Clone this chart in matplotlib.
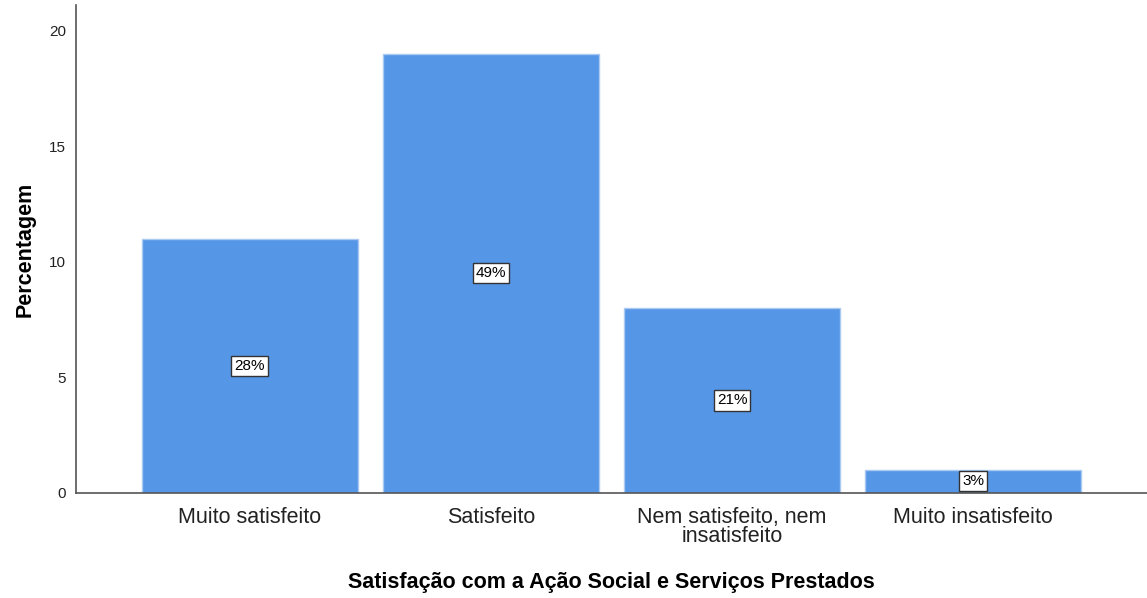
import matplotlib
matplotlib.use("Agg")
import matplotlib.pyplot as plt

plt.rcParams['font.family'] = ['Liberation Sans', 'DejaVu Sans']

categorias = ["Muito satisfeito", "Satisfeito", "Nem satisfeito, nem\ninsatisfeito", "Muito insatisfeito"]
valores = [11, 19, 8, 1]
rotulos = ["28%", "49%", "21%", "3%"]

fig = plt.figure(figsize=(11.47, 5.98), dpi=100)
ax = fig.add_axes([76/1147, 1 - 493/598, 1 - 76/1147, 488/598])

x = range(len(categorias))
barras = ax.bar(x, valores, width=0.895, color='#5596e6', edgecolor='#a9c9f2', linewidth=1)

# percentage boxes in the middle of each bar
for xi, v, r in zip(x, valores, rotulos):
    ax.text(xi, v / 2, r, ha='center', va='center', fontsize=11, color='black',
            bbox=dict(boxstyle='square,pad=0.2', facecolor='white', edgecolor='#333333', linewidth=1))

ax.set_xlim(-0.72, 3.72)
ax.set_ylim(0, 21.1)
ax.set_yticks([0, 5, 10, 15, 20])
ax.set_xticks(list(x))
ax.set_xticklabels(categorias, fontsize=15.5, linespacing=0.9)
ax.tick_params(axis='x', length=0, pad=10, colors='#222222')
ax.tick_params(axis='y', length=0, pad=7, labelsize=11, colors='#222222')

for s in ['top', 'right']:
    ax.spines[s].set_visible(False)
for s in ['left', 'bottom']:
    ax.spines[s].set_color('#555555')
    ax.spines[s].set_linewidth(1.2)

ax.set_ylabel("Percentagem", fontsize=15.5, fontweight='bold', labelpad=10)
ax.set_xlabel("Satisfação com a Ação Social e Serviços Prestados", fontsize=15.5, fontweight='bold', labelpad=18)

plt.savefig("out.png", dpi=100)
plt.close()
